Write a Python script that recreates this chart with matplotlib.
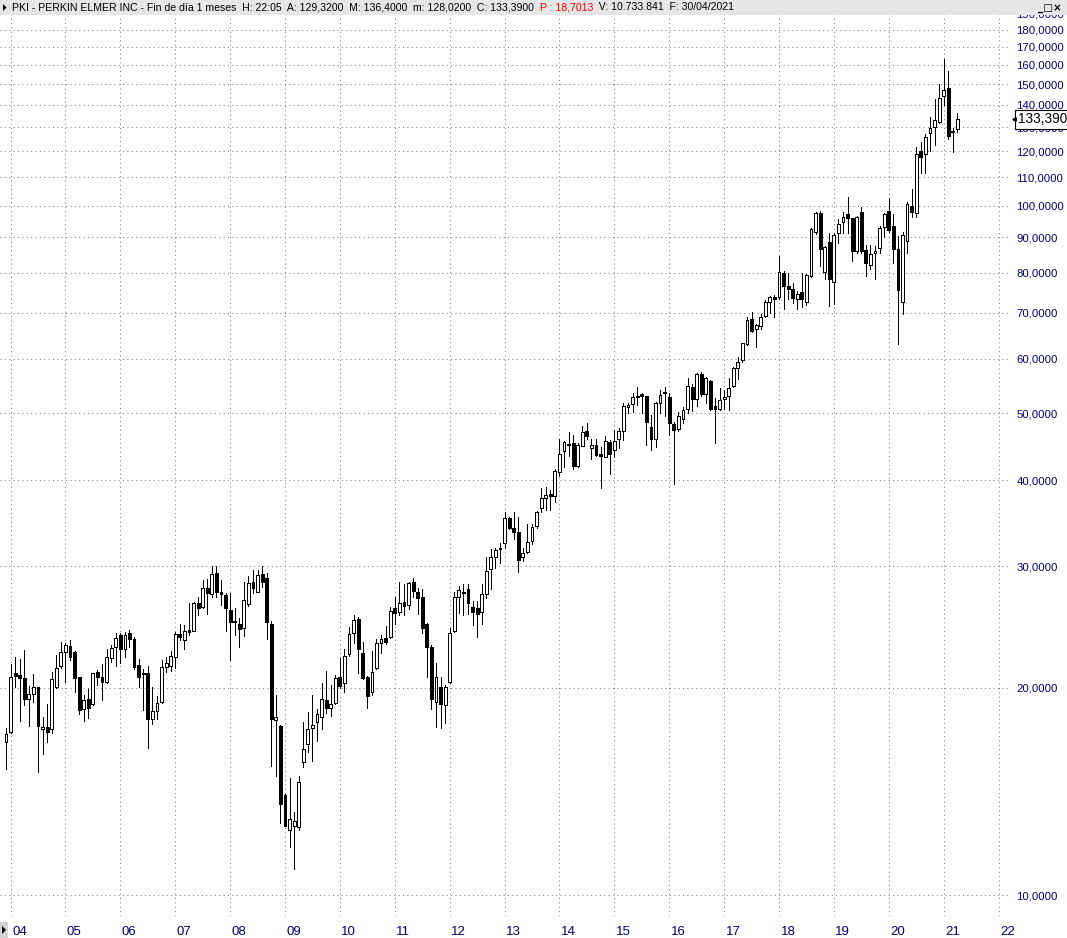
import numpy as np
import matplotlib
matplotlib.use('Agg')
import matplotlib.pyplot as plt
import matplotlib.transforms as mtransforms
from matplotlib.patches import Rectangle, Polygon
import pandas as pd

# ---------------- data (monthly OHLC, PKI) ----------------
months = pd.date_range('2003-12-01', '2021-04-01', freq='MS')

opens = [16.70,
 17.27, 20.98, 20.86, 20.64, 19.24, 19.57, 20.03, 17.41, 17.53, 17.41, 20.03, 21.51,
 22.56, 22.99, 22.50, 20.71, 18.61, 19.24, 18.93, 21.05, 20.71, 20.40, 22.11, 22.94,
 23.85, 22.74, 23.99, 23.51, 21.55, 20.99, 20.98, 18.02, 18.47, 19.09, 21.41, 21.53,
 22.18, 23.93, 23.46, 24.26, 24.20, 26.52, 26.17, 27.88, 27.33, 29.30, 27.48, 27.25,
 25.93, 25.00, 24.75, 24.39, 26.43, 28.44, 27.57, 29.24, 28.82, 24.75, 17.96, 17.57,
 13.97, 12.45, 12.61, 12.56, 15.62, 16.56, 17.47, 17.86, 18.16, 19.20, 18.67, 19.02,
 20.75, 20.34, 22.38, 24.04, 25.14, 22.43, 20.71, 19.74, 21.34, 23.20, 23.59, 23.67,
 26.08, 25.78, 26.60, 26.37, 28.44, 27.57, 27.05, 24.75, 22.94, 19.09, 20.07, 18.88,
 20.40, 24.20, 27.10, 27.50, 27.79, 26.22, 26.08, 25.73, 27.33, 29.73, 30.92, 31.86,
 32.40, 35.29, 34.06, 33.61, 30.98, 31.51, 32.68, 34.36, 36.44, 37.72, 38.15, 37.96,
 41.09, 44.05, 44.95, 45.24, 41.98, 44.89, 47.20, 44.51, 44.99, 43.65, 43.26, 45.39,
 44.24, 45.85, 47.09, 51.09, 51.60, 52.99, 53.30, 52.99, 47.78, 45.89, 51.72, 53.70,
 52.76, 48.26, 47.47, 49.02, 50.69, 54.55, 52.41, 57.00, 53.29, 55.72, 51.25, 50.74,
 52.41, 53.04, 54.79, 58.12, 59.76, 63.04, 68.46, 66.23, 67.02, 69.22, 72.61, 73.68,
 73.68, 79.82, 76.54, 75.78, 73.26, 74.94, 72.61, 79.11, 91.72, 97.55, 80.09, 88.48,
 77.47, 91.24, 94.76, 97.22, 95.93, 86.08, 97.88, 86.28, 82.17, 85.51, 86.78, 93.17,
 98.31, 93.51, 86.49, 72.46, 88.81, 99.95, 97.75, 119.90, 118.80, 127.40, 130.10, 132.40,
 144.30, 148.10, 128.40, 129.32]

highs = [17.47,
 21.65, 22.14, 21.99, 22.69, 20.11, 20.93, 20.03, 18.12, 18.94, 21.05, 22.31, 23.33,
 23.20, 23.46, 22.60, 20.75, 19.52, 19.91, 21.03, 21.22, 21.65, 22.74, 23.07, 24.04,
 24.04, 24.12, 24.26, 23.72, 21.99, 21.30, 21.51, 20.07, 19.46, 21.94, 22.14, 22.62,
 24.12, 24.75, 24.66, 26.57, 26.66, 27.05, 28.66, 28.76, 30.01, 30.01, 28.66, 27.42,
 27.42, 26.08, 25.22, 28.50, 29.08, 29.63, 29.63, 30.01, 29.30, 25.02, 19.52, 17.67,
 14.00, 14.77, 13.21, 14.89, 17.82, 18.43, 19.52, 18.61, 20.29, 21.14, 20.18, 20.86,
 22.06, 22.74, 24.48, 25.50, 25.36, 23.28, 20.80, 22.60, 23.51, 23.85, 24.58, 26.22,
 27.05, 28.44, 28.25, 28.44, 28.82, 27.88, 27.82, 24.80, 23.07, 21.75, 20.75, 20.18,
 24.44, 27.48, 28.10, 28.28, 28.28, 26.72, 26.72, 28.28, 30.98, 31.76, 31.86, 32.40,
 35.99, 35.40, 35.92, 35.40, 31.86, 34.52, 34.56, 36.07, 38.98, 39.05, 38.72, 41.50,
 45.85, 45.59, 46.93, 46.57, 45.24, 47.87, 48.47, 45.89, 45.85, 44.66, 46.31, 45.75,
 47.36, 47.63, 51.72, 51.82, 53.57, 54.55, 53.57, 53.00, 49.75, 51.99, 54.05, 54.64,
 53.46, 48.53, 50.15, 51.03, 56.22, 55.16, 57.18, 57.48, 56.53, 55.80, 52.58, 54.37,
 54.05, 56.22, 58.43, 60.37, 63.30, 68.92, 70.07, 67.39, 69.68, 73.02, 74.00, 74.25,
 84.58, 80.52, 79.82, 77.21, 75.27, 79.82, 79.64, 92.79, 97.88, 98.31, 87.46, 91.24,
 91.24, 95.70, 97.88, 102.90, 96.10, 96.50, 99.55, 87.75, 87.56, 87.46, 93.60, 97.75,
 102.60, 97.22, 90.42, 91.55, 101.20, 105.70, 121.60, 123.50, 127.10, 134.40, 142.70, 150.20,
 163.10, 156.80, 129.60, 136.40]

lows = [15.24,
 17.20, 20.07, 17.92, 18.88, 17.62, 19.09, 15.08, 16.01, 16.70, 17.18, 19.95, 21.34,
 20.40, 21.94, 19.74, 18.33, 17.92, 18.06, 18.88, 20.18, 19.16, 20.34, 21.82, 21.51,
 21.70, 22.18, 22.90, 21.27, 20.03, 18.54, 16.34, 17.70, 18.02, 19.00, 21.10, 21.17,
 21.34, 23.46, 22.76, 23.85, 24.15, 25.50, 26.08, 25.59, 27.05, 27.10, 26.37, 24.20,
 21.94, 23.85, 22.90, 23.77, 26.31, 27.42, 27.50, 28.03, 23.51, 15.41, 14.90, 12.71,
 12.58, 11.75, 10.90, 12.45, 15.33, 16.15, 15.67, 16.76, 17.41, 18.40, 18.22, 18.94,
 19.96, 19.74, 22.25, 23.25, 21.03, 20.57, 18.71, 19.52, 21.30, 22.48, 23.15, 23.60,
 24.72, 25.50, 25.45, 26.02, 27.05, 25.56, 23.99, 20.75, 18.61, 17.53, 17.47, 17.76,
 20.29, 24.10, 25.70, 25.50, 25.56, 24.66, 23.72, 24.72, 27.02, 27.79, 29.82, 30.37,
 31.86, 34.00, 32.84, 29.46, 30.57, 31.33, 32.29, 34.06, 35.99, 36.20, 36.20, 37.23,
 40.60, 41.76, 43.36, 41.50, 41.76, 44.85, 45.85, 42.93, 43.36, 38.93, 43.20, 40.83,
 43.26, 44.55, 45.75, 50.05, 50.15, 51.42, 50.05, 44.99, 44.29, 44.74, 50.05, 49.47,
 46.57, 39.54, 47.09, 48.47, 50.05, 50.32, 51.25, 52.99, 51.82, 50.57, 45.30, 50.48,
 50.74, 50.57, 54.55, 56.09, 59.42, 62.84, 65.48, 62.48, 66.30, 69.06, 69.98, 69.06,
 73.19, 70.77, 73.19, 72.22, 70.77, 71.24, 71.81, 78.90, 91.03, 81.88, 78.33, 71.64,
 72.05, 88.24, 91.24, 91.24, 83.26, 85.51, 85.34, 79.19, 80.89, 78.26, 85.34, 90.21,
 91.72, 82.54, 62.97, 69.61, 85.51, 96.45, 96.45, 111.50, 111.50, 120.20, 122.60, 131.70,
 140.10, 124.90, 119.80, 128.02]

closes = [17.14,
 20.71, 20.82, 20.68, 19.28, 19.57, 20.07, 17.62, 17.53, 17.24, 20.59, 21.34, 22.50,
 23.05, 22.18, 20.64, 18.53, 19.20, 18.71, 20.98, 20.71, 20.40, 22.14, 22.81, 23.59,
 22.74, 23.85, 23.51, 21.41, 20.75, 20.95, 18.02, 18.47, 18.99, 21.41, 21.70, 22.25,
 23.93, 23.72, 24.20, 24.12, 26.52, 26.08, 27.88, 27.42, 29.24, 27.57, 27.33, 26.08,
 24.89, 24.89, 24.31, 26.81, 28.34, 27.88, 29.14, 28.44, 24.94, 17.99, 18.16, 13.56,
 12.61, 12.88, 12.80, 14.58, 16.29, 17.41, 17.67, 18.30, 19.24, 18.67, 18.94, 20.64,
 20.13, 22.23, 23.90, 25.08, 22.74, 20.68, 19.48, 21.05, 23.20, 23.51, 23.33, 25.84,
 25.65, 26.52, 26.31, 28.34, 27.66, 26.96, 24.44, 22.87, 19.24, 20.71, 18.93, 20.07,
 23.99, 27.05, 27.72, 27.45, 26.57, 25.78, 25.56, 27.33, 29.53, 30.92, 31.68, 31.76,
 35.29, 34.13, 33.68, 30.64, 31.33, 32.51, 34.17, 35.99, 37.72, 38.07, 37.96, 41.27,
 43.61, 45.39, 45.09, 41.98, 44.99, 47.00, 46.31, 44.99, 43.50, 43.40, 45.59, 43.65,
 45.64, 47.20, 51.25, 51.42, 52.76, 52.76, 52.99, 48.63, 45.89, 51.72, 53.17, 53.50,
 48.37, 47.25, 49.58, 50.48, 54.79, 52.41, 57.00, 53.29, 56.22, 50.74, 50.69, 52.29,
 52.87, 54.37, 58.12, 59.42, 63.19, 68.30, 65.70, 67.18, 69.06, 72.46, 73.68, 73.19,
 80.09, 76.36, 75.70, 73.43, 74.43, 73.19, 79.37, 92.48, 97.55, 86.49, 87.07, 78.33,
 90.72, 94.02, 96.25, 95.93, 86.08, 96.25, 86.08, 82.70, 85.05, 85.99, 92.79, 97.32,
 92.26, 86.49, 75.35, 90.72, 100.60, 98.08, 118.80, 117.60, 125.60, 129.60, 133.20, 143.20,
 147.20, 126.00, 127.90, 133.39]

y_ticks = [10, 20, 30, 40, 50, 60, 70, 80, 90, 100, 110, 120, 130, 140, 150,
           160, 170, 180, 190]
y_tick_labels = [f"{v:.4f}".replace('.', ',') for v in y_ticks]
year_labels = ['04', '05', '06', '07', '08', '09', '10', '11', '12', '13', '14',
               '15', '16', '17', '18', '19', '20', '21', '22']
last_price_label = '133,390'
last_price = 133.39

header_parts = [
    ("PKI - PERKIN ELMER INC - Fin de día 1 meses  H: 22:05  A: 129,3200  M: 136,4000  m: 128,0200  C: 133,3900  ", 'black'),
    ("P : 18,7013", '#ff0000'),
    ("  V: 10.733.841  F: 30/04/2021", 'black'),
]

# ---------------- figure ----------------
W, H = 1067, 938
DPI = 100
fig = plt.figure(figsize=(W / DPI, H / DPI), dpi=DPI)
fig.patch.set_facecolor('white')

ax_left_px, ax_right_px = 0, 1010
ax_top_px, ax_bot_px = 10, 916
ax = fig.add_axes([ax_left_px / W, (H - ax_bot_px) / H,
                   (ax_right_px - ax_left_px) / W, (ax_bot_px - ax_top_px) / H])

n = len(opens)
x = np.arange(n)
O = np.array(opens); Hh = np.array(highs); L = np.array(lows); C = np.array(closes)
up = C >= O

PX = 72.0 / DPI  # one pixel in points
ax.set_yscale('log')
ax.vlines(x, L, Hh, colors='black', linewidth=PX, zorder=3, antialiased=False)
body_bottom = np.minimum(O, C)
body_height = np.abs(C - O)
ax.bar(x, body_height, bottom=body_bottom, width=0.62,
       color=np.where(up, 'white', 'black'), edgecolor='black',
       linewidth=PX, zorder=4, antialiased=False)

# axis limits in the reference's scale
spacing = 4.574
x0 = 6.0
ax.set_xlim((ax_left_px - x0) / spacing, (ax_right_px - x0) / spacing)
def px_to_val(ypx):
    return 10 * 10 ** ((895.2 - ypx) / 689.5)
ax.set_ylim(px_to_val(ax_bot_px), px_to_val(ax_top_px))

# ticks
jan_pos = [(2004 + k - 2003) * 12 - 11 for k in range(len(year_labels))]
ax.set_xticks(jan_pos)
ax.set_xticklabels(year_labels)
ax.set_yticks(y_ticks)
ax.set_yticklabels(y_tick_labels)
ax.yaxis.set_minor_locator(matplotlib.ticker.NullLocator())
ax.xaxis.set_minor_locator(matplotlib.ticker.NullLocator())
ax.yaxis.tick_right()
ax.tick_params(axis='y', length=0, pad=4.5, labelsize=8.2, labelcolor='#00006e')
ax.tick_params(axis='x', length=0, pad=7, labelsize=9.5, labelcolor='#00006e')
for lab in ax.get_yticklabels() + ax.get_xticklabels():
    lab.set_fontfamily('Liberation Sans')
offset = mtransforms.ScaledTranslation(1.5 / DPI, 0, fig.dpi_scale_trans)
for lab in ax.get_xticklabels():
    lab.set_horizontalalignment('left')
    lab.set_transform(lab.get_transform() + offset)

ax.grid(True, which='major', color='#808080', linestyle=(0, (1, 3.2)), linewidth=0.75)
ax.set_axisbelow(True)
for s in ax.spines.values():
    s.set_visible(False)

# last price box
bt = mtransforms.blended_transform_factory(ax.transAxes, ax.transData)
ax.text(1.0075, last_price, last_price_label, transform=bt, ha='left', va='center',
        fontsize=9.8, family='Liberation Sans', color='black', clip_on=False, zorder=8,
        bbox=dict(boxstyle='square,pad=0.18', fc='white', ec='black', lw=0.8))
ax.plot([1.0035], [last_price], transform=bt, marker='<', markersize=2.5,
        color='black', clip_on=False, zorder=8, linestyle='none')

# header bar
def fx(px):
    return px / W
def fy(py):
    return 1 - py / H
hdr_h = 15
fig.add_artist(Rectangle((0, fy(hdr_h)), 1, hdr_h / H, transform=fig.transFigure,
                         fc='#e6e6e6', ec='none', zorder=10))
fig.add_artist(Polygon([(fx(3), fy(4)), (fx(3), fy(11)), (fx(6.5), fy(7.5))], closed=True,
                       transform=fig.transFigure, fc='black', ec='none', zorder=11))
renderer = fig.canvas.get_renderer()
xpos = 12
for txt, col in header_parts:
    t = fig.text(fx(xpos), fy(7.5), txt, color=col, fontsize=7.6, family='Liberation Sans',
                 va='center', ha='left', zorder=12)
    bb = t.get_window_extent(renderer=renderer)
    xpos += bb.width
# window buttons
fig.text(fx(1062), fy(8), '_□×', fontsize=7.5, family='DejaVu Sans', ha='right',
         va='center', color='black', zorder=12, fontweight='bold')

# bottom-left small marker
fig.add_artist(Rectangle((0, fy(938)), fx(8), 16 / H, transform=fig.transFigure,
                         fc='#d4d4d4', ec='none', zorder=10))
fig.add_artist(Polygon([(fx(2), fy(926)), (fx(2), fy(934)), (fx(6), fy(930))], closed=True,
                       transform=fig.transFigure, fc='black', ec='none', zorder=11))

fig.savefig('out.png', dpi=DPI, facecolor='white')
